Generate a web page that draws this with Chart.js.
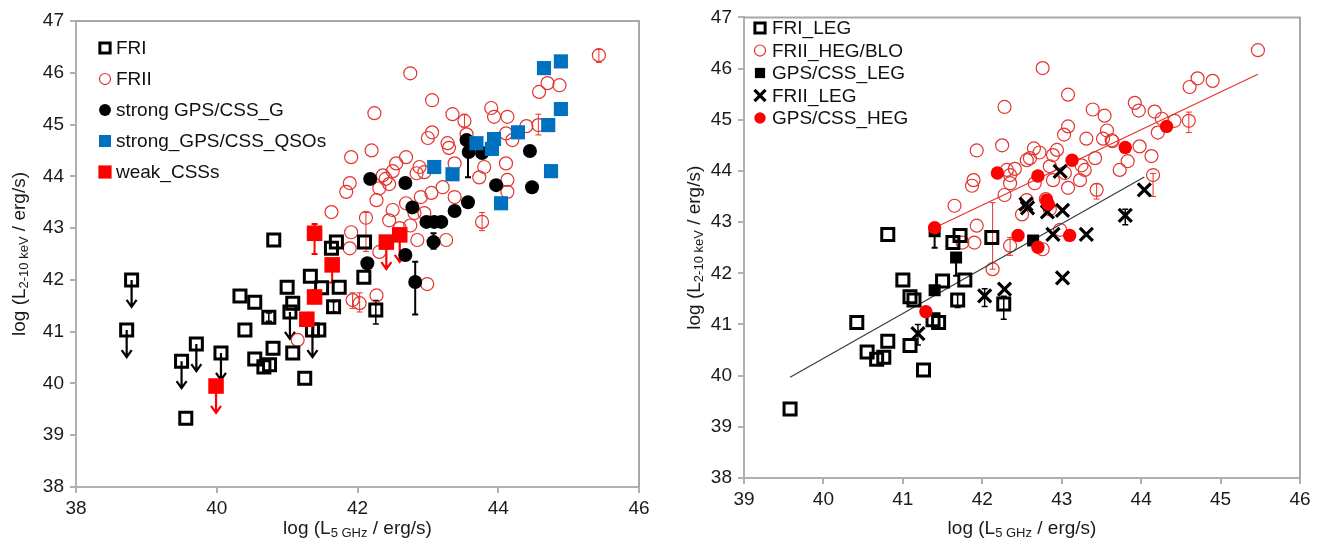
<!DOCTYPE html>
<html>
<head>
<meta charset="utf-8">
<script src="https://cdn.jsdelivr.net/npm/chart.js@4.4.1/dist/chart.umd.min.js"></script>
<style>
  html, body { margin: 0; padding: 0; background: #fff; }
  body { width: 1323px; height: 551px; position: relative; overflow: hidden; }
  .panel { position: absolute; top: 0; height: 551px; }
  #leftBox { left: 0; width: 660px; }
  #rightBox { left: 670px; width: 653px; }
</style>
</head>
<body>
<div class="panel" id="leftBox"><canvas id="leftChart"></canvas></div>
<div class="panel" id="rightBox"><canvas id="rightChart"></canvas></div>
<script>
// points are [log L(5 GHz), log L(2-10 keV)]

// ---- left panel ----
const friL = [[39.56,39.33],[40.81,42.77],[40.33,41.69],[40.54,41.57],[40.74,41.28],[40.4,41.03],
  [40.54,40.47],[40.67,40.32],[40.75,40.36],[40.8,40.68],[41.0,41.86],[41.08,41.55],[41.08,40.59],
  [41.25,40.1],[41.33,42.07],[41.49,41.85],[41.45,41.03],[41.63,42.61],[41.7,42.73],[41.74,41.86],
  [41.66,41.48],[42.1,42.73],[42.09,42.05],[42.26,41.42]];
const friLUpper = [[38.79,42.0],[38.72,41.03],[39.5,40.43],[39.71,40.76],[40.06,40.59],[41.04,41.38],[41.36,41.03]];
const friLErr = [[42.26,41.15,41.6],[41.66,41.38,41.58],[40.74,41.2,41.36]];

const friiL = [[45.43,46.34],[42.75,45.99],[43.06,45.47],[42.24,45.22],[43.35,45.2],[43.52,45.07],[43.9,45.32],
  [43.94,45.15],[44.13,45.15],[44.4,44.97],[44.57,44.99],[44.58,45.63],[44.7,45.8],[44.87,45.76],[43.06,44.85],
  [43.0,44.74],[43.28,44.64],[43.55,44.81],[44.11,44.83],[44.2,44.7],[42.2,44.5],[41.91,44.37],[44.11,44.25],
  [43.38,44.25],[42.69,44.37],[42.55,44.25],[42.88,44.18],[42.36,44.02],[41.89,43.87],[41.84,43.7],[42.31,43.77],
  [43.21,43.79],[42.84,44.06],[42.95,44.08],[43.8,44.18],[43.73,43.98],[44.13,43.93],[44.13,43.7],[42.27,43.54],
  [41.63,43.31],[41.91,42.92],[42.5,43.35],[42.45,43.15],[43.05,43.68],[43.38,43.6],[43.77,43.12],[43.26,42.77],
  [42.85,42.77],[42.69,43.48],[42.81,43.29],[42.95,43.29],[41.89,42.61],[42.31,42.54],[42.03,41.55],[42.27,41.7],
  [42.99,41.92],[41.15,40.84],[41.93,41.61],[42.12,43.2],[42.4,43.95],[42.45,43.85],[42.9,43.6],[42.6,43.0],
  [42.75,43.05],[43.3,44.55],[42.5,44.1]];
const friiLErr = [[42.12,42.55,43.3],[42.03,41.38,41.75],[41.93,41.45,41.75],[43.77,42.95,43.3],[44.57,44.8,45.2],
  [43.52,44.95,45.2],[45.43,46.2,46.45]];

const gpsG = [[42.14,42.32],[42.82,41.96],[42.68,42.48],[42.78,43.4],[42.98,43.12],[43.09,43.12],[43.19,43.12],
  [43.08,42.73],[43.38,43.33],[43.57,43.5],[42.18,43.95],[42.68,43.87],[43.55,44.7],[43.58,44.47],[43.77,44.45],
  [43.97,43.83],[44.45,44.49],[44.48,43.79]];
const gpsGErr = [[42.82,41.33,42.35],[43.57,43.98,44.7],[43.08,42.6,42.9]];

const gpsQ = [[43.09,44.18],[43.35,44.04],[43.69,44.64],[43.94,44.72],[43.91,44.53],[44.04,43.48],[44.28,44.85],
  [44.89,46.22],[44.65,46.09],[44.89,45.3],[44.71,44.99],[44.75,44.1]];

const weakCSS = [[41.39,42.9],[41.64,42.29],[41.39,41.67],[41.28,41.24]];
const weakCSSUpper = [[39.99,39.95],[42.41,42.73],[42.6,42.87]];
const weakCSSErr = [[41.39,42.5,43.08],[41.64,41.95,42.29],[41.39,41.55,41.8]];

const leftXTicks = [38, 40, 42, 44, 46];
const yTicks = [38, 39, 40, 41, 42, 43, 44, 45, 46, 47];

// ---- right panel ----
const friLEG = [[39.58,39.35],[40.42,41.04],[40.81,42.76],[40.55,40.46],[40.67,40.32],[40.76,40.36],[40.81,40.67],
  [41.0,41.87],[41.09,41.54],[41.14,41.48],[41.09,40.59],[41.26,40.11],[41.38,41.09],[41.45,41.04],[41.5,41.85],
  [41.63,42.6],[41.72,42.74],[41.78,41.87],[41.69,41.48],[42.12,42.7],[42.27,41.4]];
const friLEGErr = [[41.69,41.33,41.6],[42.27,41.1,41.55]];

const friiHEG = [[45.47,46.36],[44.71,45.81],[44.61,45.64],[44.9,45.76],[44.6,44.98],[44.42,44.98],[44.21,44.75],
  [44.17,45.16],[43.92,45.33],[43.97,45.18],[44.26,45.02],[43.54,45.08],[43.57,44.79],[43.52,44.63],[43.64,44.58],
  [43.98,44.48],[44.13,44.29],[43.83,44.19],[43.73,44.02],[44.15,43.92],[42.76,46.01],[43.08,45.49],[42.28,45.25],
  [43.39,45.2],[43.08,44.87],[43.03,44.71],[43.31,44.63],[43.63,44.6],[42.25,44.5],[42.94,44.41],[42.89,44.31],
  [42.6,44.25],[42.72,44.36],[43.25,44.11],[43.42,44.25],[42.31,44.02],[42.41,44.04],[43.23,43.82],[43.44,43.63],
  [43.08,43.67],[42.35,43.76],[42.66,43.76],[42.85,44.09],[42.5,43.15],[42.98,42.85],[42.35,42.54],[41.93,44.4],
  [42.65,44.44],[42.56,44.21],[41.89,43.82],[41.87,43.71],[42.35,43.92],[42.89,43.82],[43.04,43.96],[43.29,44.02],
  [42.28,43.53],[42.56,43.43],[41.65,43.32],[41.93,42.93],[41.9,42.6],[42.13,42.08],[41.75,42.6],[42.76,42.47],
  [42.8,43.45],[42.85,43.25]];
const friiHEGErr = [[42.13,42.08,43.38],[44.6,44.75,45.15],[44.15,43.5,43.95],[43.44,43.45,43.75],[42.35,42.35,42.7]];

const gpsLEG = [[41.4,41.67],[41.67,42.31],[42.64,42.64],[41.4,42.82]];
const gpsLEGErr = [[41.4,42.5,42.95],[41.67,41.95,42.31]];

const friiLEG = [[41.19,40.82],[42.03,41.56],[42.28,41.69],[42.55,43.35],[42.57,43.28],[42.82,43.2],[43.01,43.23],
  [42.98,43.99],[42.89,42.76],[43.31,42.76],[43.01,41.91],[43.8,43.13],[44.04,43.63]];
const friiLEGErr = [[41.19,40.6,41.0],[42.03,41.35,41.7],[43.8,42.95,43.25]];

const gpsHEG = [[41.29,41.25],[41.4,42.89],[42.45,42.74],[42.7,42.51],[43.1,42.74],[42.19,43.96],[42.7,43.9],
  [43.13,44.21],[42.81,43.43],[42.83,43.35],[44.32,44.87],[43.8,44.46]];

// regression lines (end points)
const legFit = [[39.58,39.97],[44.04,43.88]];
const hegFit = [[41.4,42.89],[45.47,45.89]];

const rightXTicks = [39, 40, 41, 42, 43, 44, 45, 46];

const ARROW = 0.52; // length of upper-limit arrows, dex

const pts = a => a.map(([x, y]) => ({ x, y }));

Chart.defaults.font.family = "'Liberation Sans', Arial, sans-serif";
Chart.defaults.color = '#1a1a1a';

// error bars and upper-limit arrows, drawn behind the markers
const barsPlugin = {
    id: 'bars',
    beforeDatasetsDraw(chart) {
        const { ctx, scales: { x, y } } = chart;
        chart.data.datasets.forEach(ds => {
            const col = ds.barColor || ds.borderColor;
            ctx.save();
            ctx.strokeStyle = col;
            ctx.lineWidth = ds.barWidth || 1.5;
            (ds.err || []).forEach(([vx, lo, hi]) => {
                const px = x.getPixelForValue(vx);
                const p1 = y.getPixelForValue(lo), p2 = y.getPixelForValue(hi);
                ctx.beginPath();
                ctx.moveTo(px, p1); ctx.lineTo(px, p2);
                ctx.moveTo(px - 3, p1); ctx.lineTo(px + 3, p1);
                ctx.moveTo(px - 3, p2); ctx.lineTo(px + 3, p2);
                ctx.stroke();
            });
            ctx.lineWidth = 2.2;
            (ds.upper || []).forEach(([vx, vy]) => {
                const px = x.getPixelForValue(vx);
                const p1 = y.getPixelForValue(vy), p2 = y.getPixelForValue(vy - ARROW);
                ctx.beginPath();
                ctx.moveTo(px, p1); ctx.lineTo(px, p2);
                ctx.moveTo(px - 5, p2 - 7); ctx.lineTo(px, p2); ctx.lineTo(px + 5, p2 - 7);
                ctx.stroke();
            });
            ctx.restore();
        });
    }
};

function marker(ctx, ds, cx, cy, scale) {
    const r = ds.pointRadius * scale;
    ctx.save();
    ctx.strokeStyle = ds.borderColor;
    ctx.fillStyle = ds.backgroundColor;
    ctx.lineWidth = ds.borderWidth;
    ctx.beginPath();
    if (ds.pointStyle === 'rect') {
        const h = r * Math.SQRT1_2;
        ctx.rect(cx - h, cy - h, 2 * h, 2 * h);
    } else if (ds.pointStyle === 'crossRot') {
        const h = r * Math.SQRT1_2;
        ctx.moveTo(cx - h, cy - h); ctx.lineTo(cx + h, cy + h);
        ctx.moveTo(cx - h, cy + h); ctx.lineTo(cx + h, cy - h);
    } else {
        ctx.arc(cx, cy, r, 0, Math.PI * 2);
    }
    ctx.fill();
    if (ds.borderWidth > 0) ctx.stroke();
    ctx.restore();
}

// text with a subscript part
function richText(ctx, parts, cx, cy, rot) {
    const big = "19px 'Liberation Sans', Arial, sans-serif";
    const small = "13px 'Liberation Sans', Arial, sans-serif";
    let w = 0;
    parts.forEach(p => { ctx.font = p.sub ? small : big; w += ctx.measureText(p.t).width; });
    ctx.save();
    ctx.translate(cx, cy);
    ctx.rotate(rot);
    ctx.fillStyle = '#1a1a1a';
    ctx.textBaseline = 'alphabetic';
    let x = -w / 2;
    parts.forEach(p => {
        ctx.font = p.sub ? small : big;
        ctx.fillText(p.t, x, p.sub ? 10 : 7);
        x += ctx.measureText(p.t).width;
    });
    ctx.restore();
}

const framePlugin = {
    id: 'frame',
    afterDraw(chart, args, o) {
        const { ctx, chartArea: a } = chart;
        ctx.save();
        ctx.strokeStyle = '#a8a8a8';
        ctx.lineWidth = 2;
        ctx.beginPath();
        ctx.moveTo(a.left, a.top); ctx.lineTo(a.right, a.top); ctx.lineTo(a.right, a.bottom);
        ctx.stroke();
        ctx.restore();

        richText(ctx, [{ t: 'log (L' }, { t: '5 GHz', sub: true }, { t: ' / erg/s)' }],
            (a.left + a.right) / 2, o.xTitleY, 0);
        richText(ctx, [{ t: 'log (L' }, { t: '2-10 keV', sub: true }, { t: ' / erg/s)' }],
            o.yTitleX, (a.top + a.bottom) / 2, -Math.PI / 2);

        // legend
        let row = 0;
        chart.data.datasets.forEach(ds => {
            if (!ds.label) return;
            const cy = o.legendY + row * o.legendStep;
            marker(ctx, ds, o.legendX, cy, o.legendScale);
            ctx.save();
            ctx.font = "19px 'Liberation Sans', Arial, sans-serif";
            ctx.fillStyle = '#111';
            ctx.textBaseline = 'middle';
            ctx.fillText(ds.label, o.legendX + o.legendGap, cy + 1);
            ctx.restore();
            row++;
        });
    }
};

function scatterOptions(xMin, xMax, xTicks, pad, yWidth, xHeight, frame) {
    const axis = {
        border: { color: '#b0b0b0', width: 2 },
        grid: { drawOnChartArea: false, drawTicks: true, tickLength: 6, color: '#b0b0b0', lineWidth: 2 }
    };
    return {
        responsive: true,
        maintainAspectRatio: false,
        animation: false,
        layout: { padding: pad },
        plugins: { legend: { display: false }, tooltip: { enabled: false }, frame: frame },
        scales: {
            x: {
                type: 'linear', min: xMin, max: xMax,
                afterBuildTicks: s => { s.ticks = xTicks.map(v => ({ value: v })); },
                afterFit: s => { s.height = xHeight; },
                ticks: { font: { size: 19 }, padding: 4, autoSkip: false, maxRotation: 0 },
                ...axis
            },
            y: {
                type: 'linear', min: 38, max: 47,
                afterBuildTicks: s => { s.ticks = yTicks.map(v => ({ value: v })); },
                afterFit: s => { s.width = yWidth; },
                ticks: { font: { size: 19 }, padding: 6, autoSkip: false },
                ...axis
            }
        }
    };
}

const openSquare = { pointStyle: 'rect', pointRadius: 8.5, borderWidth: 3, borderColor: '#000', backgroundColor: 'rgba(255,255,255,0)' };
const openCircle = { pointStyle: 'circle', pointRadius: 6.5, borderWidth: 1.2, borderColor: '#e3342f', backgroundColor: 'rgba(255,255,255,0)' };

new Chart(document.getElementById('leftChart'), {
    type: 'scatter',
    data: {
        datasets: [
            { label: 'FRI', data: pts(friL.concat(friLUpper)), upper: friLUpper, err: friLErr,
              barWidth: 1.5, order: 4, ...openSquare },
            { label: 'FRII', data: pts(friiL), err: friiLErr, barWidth: 1, order: 5, ...openCircle },
            { label: 'strong GPS/CSS_G', data: pts(gpsG), err: gpsGErr, barWidth: 2, order: 3,
              pointStyle: 'circle', pointRadius: 7, borderWidth: 0, borderColor: '#000', backgroundColor: '#000' },
            { label: 'strong_GPS/CSS_QSOs', data: pts(gpsQ), order: 2,
              pointStyle: 'rect', pointRadius: 10, borderWidth: 0, borderColor: '#0070c0', backgroundColor: '#0070c0' },
            { label: 'weak_CSSs', data: pts(weakCSS.concat(weakCSSUpper)), upper: weakCSSUpper, err: weakCSSErr,
              barWidth: 2, order: 1,
              pointStyle: 'rect', pointRadius: 11, borderWidth: 0, borderColor: '#ff0000', backgroundColor: '#ff0000' }
        ]
    },
    options: scatterOptions(38, 46, leftXTicks, { left: 0, top: 21, right: 21, bottom: 0 }, 76, 64,
        { xTitleY: 527, yTitleX: 18, legendX: 105, legendY: 48, legendStep: 31, legendGap: 11, legendScale: 0.85 }),
    plugins: [barsPlugin, framePlugin]
});

new Chart(document.getElementById('rightChart'), {
    type: 'scatter',
    data: {
        datasets: [
            { label: 'FRI_LEG', data: pts(friLEG), err: friLEGErr, barWidth: 1.5, order: 4, ...openSquare },
            { label: 'FRII_HEG/BLO', data: pts(friiHEG), err: friiHEGErr, barWidth: 1, order: 7, ...openCircle },
            { label: 'GPS/CSS_LEG', data: pts(gpsLEG), err: gpsLEGErr, barWidth: 2, order: 3,
              pointStyle: 'rect', pointRadius: 8.5, borderWidth: 0, borderColor: '#000', backgroundColor: '#000' },
            { label: 'FRII_LEG', data: pts(friiLEG), err: friiLEGErr, barWidth: 1.5, order: 2,
              pointStyle: 'crossRot', pointRadius: 9.2, borderWidth: 3.2, borderColor: '#000', backgroundColor: '#000' },
            { label: 'GPS/CSS_HEG', data: pts(gpsHEG), order: 1,
              pointStyle: 'circle', pointRadius: 6.7, borderWidth: 0, borderColor: '#ff0000', backgroundColor: '#ff0000' },
            { data: pts(legFit), showLine: true, pointRadius: 0, borderColor: '#3a3a3a', borderWidth: 1.2, order: 6 },
            { data: pts(hegFit), showLine: true, pointRadius: 0, borderColor: '#e3342f', borderWidth: 1.2, order: 6 }
        ]
    },
    options: scatterOptions(39, 46, rightXTicks, { left: 0, top: 13, right: 23, bottom: 0 }, 74, 73,
        { xTitleY: 527, yTitleX: 23, legendX: 90, legendY: 28, legendStep: 22.5, legendGap: 12, legendScale: 0.85 }),
    plugins: [barsPlugin, framePlugin]
});
</script>
</body>
</html>
